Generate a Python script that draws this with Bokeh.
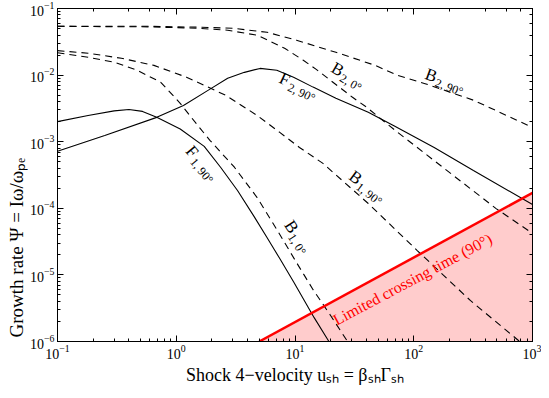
import numpy as np
from bokeh.plotting import figure
from bokeh.models import LogAxis, Title
from bokeh.core.properties import value
from bokeh.embed import file_html
from bokeh.resources import INLINE

# ---------------- data ----------------
u_b2_90 = [0.1, 0.589, 1.53, 2.98, 5.81, 10.3, 22.1, 47.3, 73.3, 122.7, 318, 1000]
psi_b2_90 = [0.054, 0.054, 0.0524, 0.0505, 0.044, 0.0334, 0.022, 0.014, 0.0099, 0.0075, 0.0042, 0.00164]

u_b2_0 = [0.1, 0.589, 1.53, 2.71, 4.80, 8.18, 11.75, 15.1, 30.5, 39.1, 73.3, 244, 494, 1000]
psi_b2_0 = [0.054, 0.053, 0.0505, 0.0472, 0.0397, 0.0253, 0.0167, 0.0122, 4.64e-3, 3.4e-3, 1.38e-3, 2.62e-4, 9.9e-5, 4.2e-5]

u_b1_90 = [0.1, 0.181, 0.345, 0.649, 1.22, 2.61, 4.80, 7.44, 10.9, 17.2, 41.4, 107, 301, 780]
psi_b1_90 = [0.0233, 0.0213, 0.0179, 0.0140, 9.3e-3, 4.97e-3, 2.48e-3, 1.38e-3, 8.2e-4, 4.72e-4, 1.18e-4, 2.32e-5, 4.1e-6, 1e-6]

u_b1_0 = [0.1, 0.181, 0.302, 0.469, 0.741, 1.08, 1.47, 1.92, 3.10, 4.80, 7.03, 10.3, 14.2, 20.0, 27.7]
psi_b1_0 = [0.0217, 0.0185, 0.0156, 0.0118, 7.8e-3, 3.77e-3, 1.88e-3, 1.05e-3, 4.1e-4, 1.45e-4, 4.8e-5, 1.53e-5, 6.0e-6, 2.44e-6, 1e-6]

u_f1_90 = [0.1, 0.181, 0.30, 0.40, 0.52, 0.685, 1.08, 1.72, 2.37, 3.28, 4.53, 5.81, 7.44, 9.72, 14.5, 19.3]
psi_f1_90 = [2.0e-3, 2.48e-3, 2.9e-3, 3.05e-3, 2.85e-3, 2.32e-3, 1.55e-3, 8.5e-4, 4.1e-4, 1.85e-4, 7.5e-5, 3.64e-5, 1.76e-5, 7.9e-6, 2.28e-6, 1e-6]

u_f2_90 = [0.1, 0.25, 0.685, 1.15, 1.85, 2.71, 3.75, 5.08, 7.03, 9.72, 14.2, 22.1, 41.4, 69.3, 148.6, 318, 1000]
psi_f2_90 = [7.2e-4, 1.24e-3, 2.32e-3, 3.5e-3, 5.9e-3, 8.95e-3, 1.10e-2, 1.26e-2, 1.18e-2, 9.3e-3, 6.6e-3, 4.5e-3, 2.76e-3, 1.70e-3, 8.2e-4, 3.7e-4, 1.14e-4]

cross_u = [5.0, 1000.0]
cross_psi = [1e-6, 1.7e-4]

# curve labels: (u, psi, main, sub, angle_deg)
curve_labels = [
    (140.0, 9.9e-3, "B", "2, 90°", -20),
    (22.9, 1.22e-2, "B", "2, 0°", -30),
    (8.18, 8.65e-3, "F", "2, 90°", -25),
    (32.3, 2.9e-4, "B", "1, 90°", -37),
    (1.36, 7.1e-4, "F", "1, 90°", -50),
    (9.35, 5.3e-5, "B", "1, 0°", -57),
]

x_title = "Shock 4−velocity uₛₕ = βₛₕΓₛₕ"
y_title = "Growth rate Ψ = Iω/ωₚₑ"
limit_text = "Limited crossing time (90°)"

FONT = "Liberation Serif"

p = figure(width=541, height=390, x_axis_type="log", y_axis_type="log",
           x_range=(0.1, 1000), y_range=(1e-6, 1e-1),
           output_backend="svg", toolbar_location=None, title=None,
           min_border_left=57, min_border_right=9, min_border_top=8, min_border_bottom=49)
p.xgrid.visible = False
p.ygrid.visible = False
p.outline_line_color = "black"
p.background_fill_color = "white"
p.border_fill_color = "white"

p.add_layout(LogAxis(), "right")
p.add_layout(LogAxis(), "above")

axes = [a for a in (p.left + p.right + p.above + p.below) if isinstance(a, LogAxis)]
for ax in axes:
    ax.axis_line_color = "black"
    ax.major_tick_in = 6
    ax.major_tick_out = 0
    ax.minor_tick_in = 3
    ax.minor_tick_out = 0
    ax.major_tick_line_color = "black"
    ax.minor_tick_line_color = "black"
    ax.major_label_text_font = FONT
    ax.major_label_text_font_size = "14px"
    ax.major_label_text_color = "black"
    ax.major_label_standoff = 3
for ax in [a for a in (p.right + p.above) if isinstance(a, LogAxis)]:
    ax.major_label_text_font_size = "1px"
    ax.major_label_text_alpha = 0
    ax.major_label_standoff = 0

# axis titles
p.add_layout(Title(text=x_title, align="center", text_font=FONT, text_font_size="18px",
                   text_font_style="normal", text_color="black", standoff=2), "below")
p.add_layout(Title(text=y_title, align="left", offset=4, text_font=FONT, text_font_size="19px",
                   text_font_style="normal", text_color="black", standoff=2), "left")

# shaded region under the crossing-time limit
p.patch(x=[cross_u[0], cross_u[1], cross_u[1]], y=[cross_psi[0], cross_psi[1], cross_psi[0]],
        fill_color="#ffcccc", line_color=None)

dash = "7 5"
for uu, pp in [(u_b2_90, psi_b2_90), (u_b2_0, psi_b2_0), (u_b1_90, psi_b1_90), (u_b1_0, psi_b1_0)]:
    p.line(uu, pp, line_color="black", line_width=1.1, line_dash=dash)
for uu, pp in [(u_f1_90, psi_f1_90), (u_f2_90, psi_f2_90)]:
    p.line(uu, pp, line_color="black", line_width=1.1)

p.line(cross_u, cross_psi, line_color="red", line_width=2.5)

# curve labels
for (u0, s0, main, sub, ang) in curve_labels:
    a = np.radians(ang)
    p.text(x=[u0], y=[s0], text=[main], angle=ang, angle_units="deg",
           text_align="center", text_baseline="middle",
           text_font=value(FONT), text_font_size="17px", text_color="black")
    along, down = 6.5, 5.0
    dx = along * np.cos(a) + down * np.sin(a)
    dy = -along * np.sin(a) + down * np.cos(a)
    p.text(x=[u0], y=[s0], text=[sub], angle=ang, angle_units="deg",
           x_offset=float(dx), y_offset=float(dy),
           text_align="left", text_baseline="middle",
           text_font=value(FONT), text_font_size="12px", text_color="black")

p.text(x=[97.7], y=[8.6e-6], text=[limit_text], angle=28, angle_units="deg",
       text_align="center", text_baseline="middle",
       text_font=value(FONT), text_font_size="16px", text_color="red")

open("out.html", "w").write(file_html(p, INLINE))
